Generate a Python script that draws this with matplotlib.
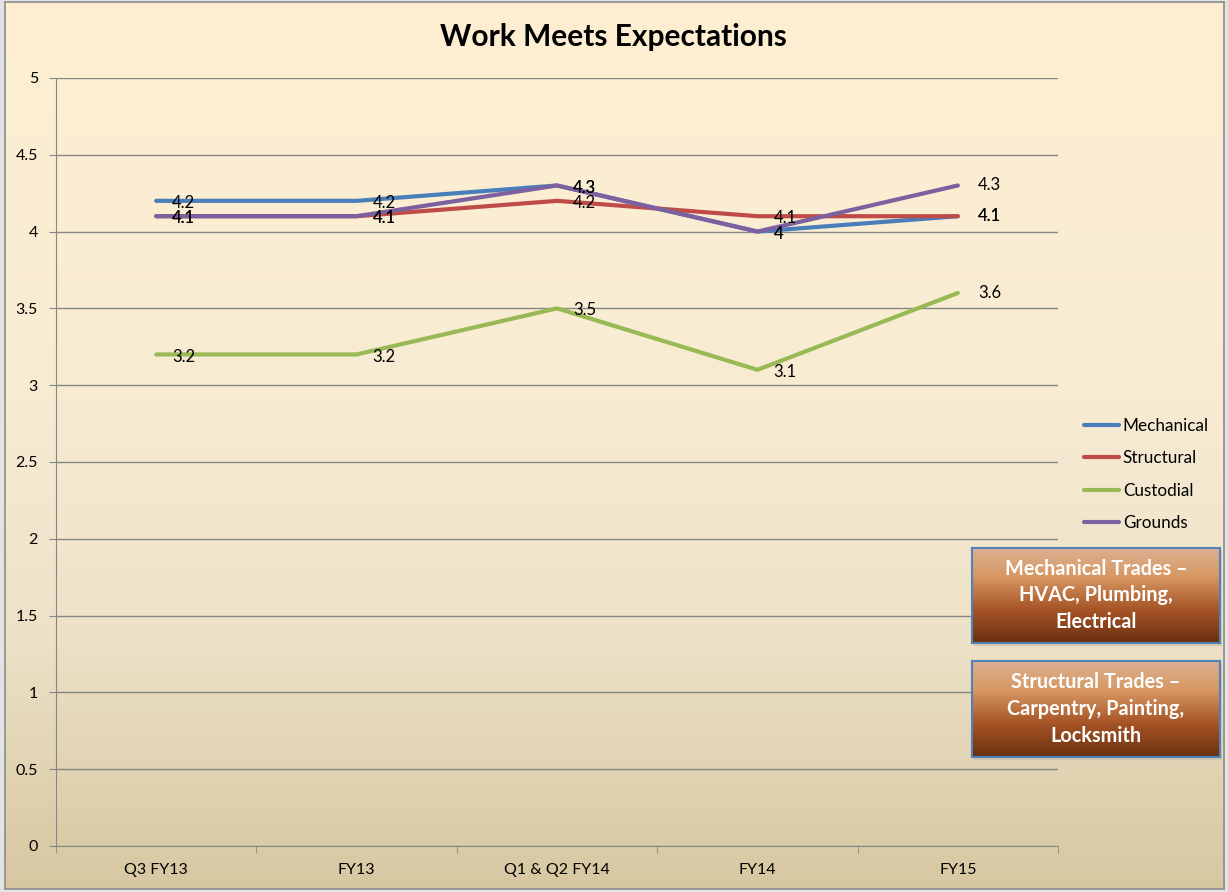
import numpy as np
import matplotlib
matplotlib.use("Agg")
import matplotlib.pyplot as plt
from matplotlib.colors import LinearSegmentedColormap
from matplotlib.patches import Rectangle

categories = ["Q3 FY13", "FY13", "Q1 & Q2 FY14", "FY14", "FY15"]
mechanical = [4.2, 4.2, 4.3, 4.0, 4.1]
structural = [4.1, 4.1, 4.2, 4.1, 4.1]
custodial = [3.2, 3.2, 3.5, 3.1, 3.6]
grounds = [4.1, 4.1, 4.3, 4.0, 4.3]

series = [
    ("Mechanical", mechanical, "#4A7EBB"),
    ("Structural", structural, "#BE4B48"),
    ("Custodial", custodial, "#98B954"),
    ("Grounds", grounds, "#7D60A0"),
]
box_texts = [
    "Mechanical Trades \u2013\nHVAC, Plumbing,\nElectrical",
    "Structural Trades \u2013\nCarpentry, Painting,\nLocksmith",
]

plt.rcParams["font.family"] = ["Lato", "DejaVu Sans"]

fig = plt.figure(figsize=(12.28, 8.92), dpi=100)
fig.patch.set_facecolor("#E3E3E3")

# background gradient (top -> bottom)
bg = fig.add_axes([0.004, 0.003, 0.993, 0.995], zorder=-5)
bg_cmap = LinearSegmentedColormap.from_list(
    "bg", [(0.0, "#FEEFD1"), (0.45, "#F7ECD3"), (0.7, "#EEE3C9"), (1.0, "#D7C7A1")])
bg.imshow(np.linspace(0, 1, 256).reshape(-1, 1), aspect="auto", cmap=bg_cmap,
          extent=[0, 1, 0, 1])
bg.set_xlim(0, 1)
bg.set_ylim(0, 1)
for s in bg.spines.values():
    s.set_color("#8C8C8C")
    s.set_linewidth(1.2)
bg.set_xticks([])
bg.set_yticks([])

ax = fig.add_axes([0.0456, 0.0516, 0.816, 0.861])
ax.set_facecolor("none")
x = np.arange(len(categories))
for name, vals, color in series:
    ax.plot(x, vals, color=color, lw=3, label=name, solid_capstyle="round", zorder=3)
    for i, v in enumerate(vals):
        dx = 14.5 if i == len(vals) - 1 else 11.5
        dy = 0 if i == len(vals) - 1 else -1.5
        ax.annotate(f"{v:g}", (i, v), xytext=(dx, dy), textcoords="offset points",
                    ha="left", va="center", fontsize=12, color="black", zorder=4)

ax.set_xlim(-0.5, len(categories) - 0.5)
ax.set_ylim(0, 5)
ax.set_yticks(np.arange(0, 5.01, 0.5))
ax.set_yticklabels([f"{t:g}" for t in np.arange(0, 5.01, 0.5)], fontsize=11.5)
ax.set_xticks(x)
ax.set_xticklabels(categories, fontsize=11.5)
ax.set_xticks(np.arange(-0.5, len(categories)), minor=True)
ax.tick_params(axis="x", which="major", length=0, pad=12)
ax.tick_params(axis="x", which="minor", length=5, color="#868686")
ax.tick_params(axis="y", length=5, color="#868686", pad=8)
ax.grid(axis="y", color="#868686", lw=1)
ax.set_axisbelow(True)
for side in ["top", "right"]:
    ax.spines[side].set_visible(False)
for side in ["left", "bottom"]:
    ax.spines[side].set_color("#868686")

fig.text(0.4995, 0.958, "Work Meets Expectations", ha="center", va="center",
         fontsize=21.5, fontweight="bold")

leg = fig.legend(loc="upper left", bbox_to_anchor=(0.8705, 0.549), frameon=False,
                 fontsize=12.3, handlelength=2.05, handletextpad=0.2, labelspacing=0.97)

# text boxes with gradient fill (light top -> dark bottom)
box_cmap = LinearSegmentedColormap.from_list(
    "box", [(0.0, "#DDB092"), (0.3, "#D79862"), (0.65, "#A65426"), (1.0, "#6B3010")])
boxes = [(0.7915, 0.2792, 0.202, 0.1065), (0.7915, 0.1513, 0.202, 0.1076)]
for (bx, by, bw, bh), txt in zip(boxes, box_texts):
    shadow = fig.add_axes([bx + 0.002, by - 0.003, bw, bh], zorder=1)
    shadow.axis("off")
    shadow.add_patch(Rectangle((0, 0), 1, 1, transform=shadow.transAxes,
                               color="#C9BFA6", alpha=0.6))
    bax = fig.add_axes([bx, by, bw, bh], zorder=2)
    bax.imshow(np.linspace(0, 1, 256).reshape(-1, 1), aspect="auto", cmap=box_cmap,
               extent=[0, 1, 0, 1])
    bax.set_xlim(0, 1)
    bax.set_ylim(0, 1)
    bax.set_xticks([])
    bax.set_yticks([])
    for s in bax.spines.values():
        s.set_color("#4F81BD")
        s.set_linewidth(1.5)
    bax.text(0.5, 0.5, txt, ha="center", va="center", color="white", fontsize=14.3,
             fontweight="bold", linespacing=1.42, transform=bax.transAxes)

fig.savefig("out.png", dpi=100)
